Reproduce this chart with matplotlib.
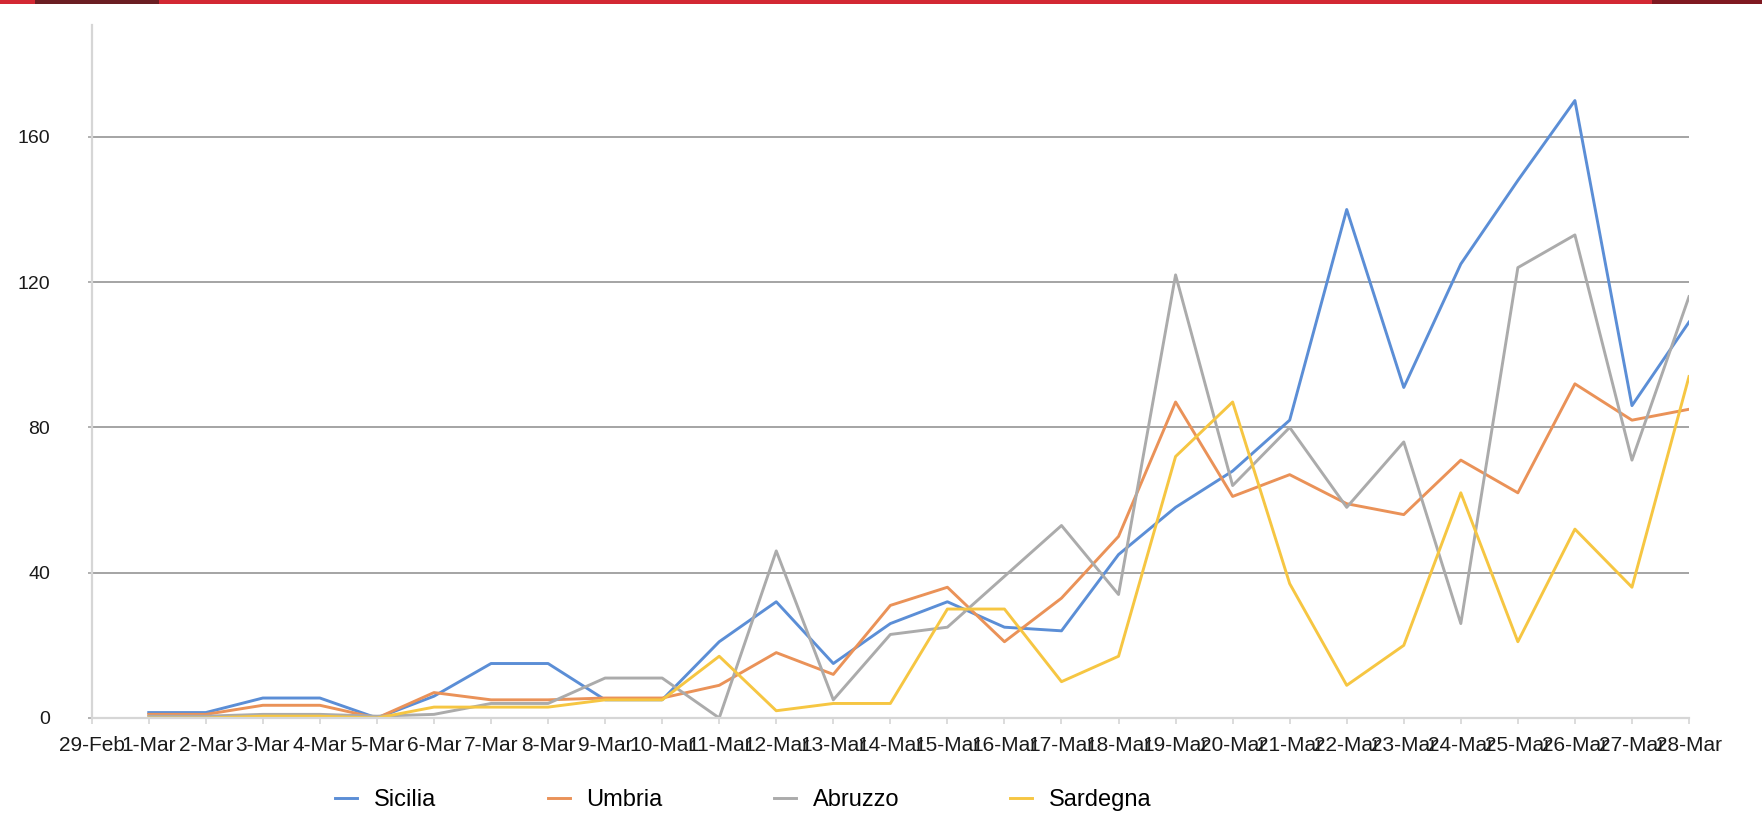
import matplotlib
matplotlib.use("Agg")
import matplotlib.pyplot as plt
import numpy as np

# categories (29-Feb has no data)
dates = ["29-Feb"] + [f"{d}-Mar" for d in range(1, 29)]

sicilia = [np.nan, 1.5, 1.5, 5.5, 5.5, 0, 6, 15, 15, 5, 5, 21, 32, 15, 26, 32, 25, 24,
           45, 58, 68, 82, 140, 91, 125, 148, 170, 86, 109]
umbria = [np.nan, 1, 1, 3.5, 3.5, 0, 7, 5, 5, 5.5, 5.5, 9, 18, 12, 31, 36, 21, 33,
          50, 87, 61, 67, 59, 56, 71, 62, 92, 82, 85]
abruzzo = [np.nan, 0.5, 0.5, 1, 1, 0.5, 1, 4, 4, 11, 11, 0, 46, 5, 23, 25, 39, 53,
           34, 122, 64, 80, 58, 76, 26, 124, 133, 71, 116]
sardegna = [np.nan, 0, 0, 0.5, 0.5, 0, 3, 3, 3, 5, 5, 17, 2, 4, 4, 30, 30, 10,
            17, 72, 87, 37, 9, 20, 62, 21, 52, 36, 94]

series = ["Sicilia", "Umbria", "Abruzzo", "Sardegna"]
colors = ["#5b8ed6", "#ea9258", "#ababab", "#f6c642"]
yticks = [0, 40, 80, 120, 160]

plt.rcParams['font.family'] = ['Liberation Sans', 'DejaVu Sans']

fig = plt.figure(figsize=(17.62, 8.17), dpi=100)

# red banner on top
band = fig.add_axes([0, 1 - 4 / 817, 1, 4 / 817])
grad = np.ones((1, 400, 3)) * np.array([0.83, 0.16, 0.2])
grad[0, 8:36] = [0.42, 0.12, 0.14]
grad[0, 375:] = [0.5, 0.1, 0.13]
band.imshow(grad, aspect='auto', extent=[0, 1, 0, 1])
band.axis('off')

ax = fig.add_axes([91.7 / 1762, 1 - 718 / 817, (1689 - 91.7) / 1762, (718 - 25) / 817])
x = np.arange(len(dates))
for name, vals, c in zip(series, [sicilia, umbria, abruzzo, sardegna], colors):
    ax.plot(x, vals, color=c, lw=2.1, label=name)

ax.set_xlim(0, len(dates) - 1)
ax.set_ylim(0, 190.8)
ax.set_yticks(yticks)
ax.set_xticks(x)
ax.set_xticklabels(dates)
ax.yaxis.grid(True, color='#a4a4a4', lw=1.4)
ax.set_axisbelow(True)

for s in ['top', 'right']:
    ax.spines[s].set_visible(False)
for s in ['left', 'bottom']:
    ax.spines[s].set_color('#d6d6d6')
    ax.spines[s].set_linewidth(1.6)

ax.tick_params(axis='x', direction='out', length=4, width=1.2, color='#d6d6d6',
               labelsize=15, labelcolor='#1a1a1a', pad=9)
ax.tick_params(axis='y', direction='out', length=3, width=1.2, color='#a4a4a4',
               labelsize=14, labelcolor='#1a1a1a', pad=27)

fig.legend(loc='center', bbox_to_anchor=(0.422, 0.021), ncol=4, frameon=False,
           fontsize=17, handlelength=0.93, handletextpad=0.72, columnspacing=4.7)

fig.savefig("out.png", dpi=100)
